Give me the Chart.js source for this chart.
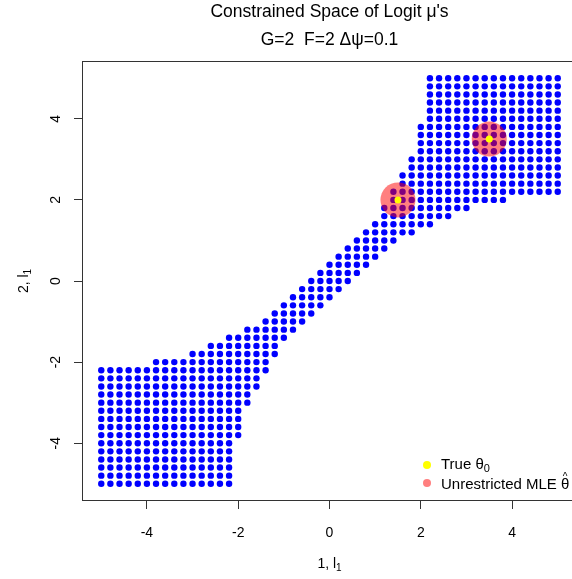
<!DOCTYPE html>
<html>
<head>
<meta charset="utf-8">
<script src="https://cdn.jsdelivr.net/npm/chart.js@4.4.1/dist/chart.umd.min.js"></script>
<style>
  html, body { margin: 0; padding: 0; background: #fff; overflow: hidden; }
  #wrap { position: absolute; left: 0; top: 0; width: 580px; height: 579px; }
</style>
</head>
<body>
<div id="wrap"><canvas id="chart" width="580" height="579"></canvas></div>
<script>
// lattice columns (l1 of group 1) and the y range kept in each column
const gridX = [-5, -4.8, -4.6, -4.4, -4.2, -4, -3.8, -3.6, -3.4, -3.2, -3, -2.8, -2.6, -2.4, -2.2, -2, -1.8, -1.6, -1.4, -1.2, -1,
    -0.8, -0.6, -0.4, -0.2, 0, 0.2, 0.4, 0.6, 0.8, 1, 1.2, 1.4, 1.6, 1.8, 2, 2.2, 2.4, 2.6, 2.8, 3, 3.2, 3.4, 3.6, 3.8, 4,
    4.2, 4.4, 4.6, 4.8, 5];
const colYMin = [-5, -5, -5, -5, -5, -5, -5, -5, -5, -5, -5, -5, -5, -5, -5, -3.8, -3, -2.6, -2.2, -1.8, -1.4,
    -1.2, -1, -0.8, -0.6, -0.4, -0.2, 0, 0.2, 0.4, 0.6, 0.8, 1, 1.2, 1.2, 1.4, 1.4, 1.6, 1.6, 1.8, 1.8, 2, 2, 2, 2, 2.2,
    2.2, 2.2, 2.2, 2.2, 2.2];
const colYMax = [-2.2, -2.2, -2.2, -2.2, -2.2, -2.2, -2, -2, -2, -2, -1.8, -1.8, -1.6, -1.6, -1.4, -1.4, -1.2, -1.2, -1, -0.8, -0.6,
    -0.4, -0.2, 0, 0.2, 0.4, 0.6, 0.8, 1, 1.2, 1.4, 1.8, 2.2, 2.6, 3, 3.8, 5, 5, 5, 5, 5, 5, 5, 5, 5, 5,
    5, 5, 5, 5, 5];
const gridStep = 0.2;

const truePoints = [{ x: 1.5, y: 2 }, { x: 3.5, y: 3.5 }];
const mlePoints = [{ x: 1.5, y: 2 }, { x: 3.5, y: 3.5 }];

const xTicks = [-4, -2, 0, 2, 4];
const yTicks = [-4, -2, 0, 2, 4];
const axisMin = -5.4;
const axisMax = 5.4;

const FONT = "'Liberation Sans', Arial, sans-serif";

// expand each column's range into lattice points
const spacePoints = [];
gridX.forEach((x, i) => {
    const n = Math.round((colYMax[i] - colYMin[i]) / gridStep);
    for (let j = 0; j <= n; j++) {
        spacePoints.push({ x: x, y: +(colYMin[i] + j * gridStep).toFixed(1) });
    }
});

// draw text made of pieces (for subscripts / hats)
function drawParts(ctx, parts, x, y, align) {
    let total = 0;
    parts.forEach(p => {
        ctx.font = p.size + 'px ' + FONT;
        p.w = ctx.measureText(p.t).width;
        total += p.w;
    });
    let cx = align === 'center' ? x - total / 2 : x;
    ctx.textAlign = 'left';
    ctx.textBaseline = 'alphabetic';
    parts.forEach(p => {
        ctx.font = p.size + 'px ' + FONT;
        ctx.fillText(p.t, cx, y + (p.dy || 0));
        if (p.hat) {
            ctx.font = '10px ' + FONT;
            ctx.textAlign = 'center';
            ctx.fillText('^', cx + p.w / 2, y - 9);
            ctx.textAlign = 'left';
        }
        cx += p.w;
    });
}

const decor = {
    id: 'decor',
    afterDraw(chart) {
        const ctx = chart.ctx;
        const ca = chart.chartArea;
        const xs = chart.scales.x;
        const ys = chart.scales.y;
        ctx.save();

        // plot box
        ctx.strokeStyle = '#333';
        ctx.lineWidth = 1;
        ctx.strokeRect(ca.left - 0.5, ca.top - 0.5, ca.right - ca.left + 1, ca.bottom - ca.top + 1);

        ctx.fillStyle = '#000';
        const midX = (ca.left + ca.right) / 2;

        // titles
        drawParts(ctx, [{ t: "Constrained Space of Logit \u03BC's", size: 17.5 }], midX, 16.5, 'center');
        drawParts(ctx, [{ t: 'G=2  F=2 \u0394\u03C8=0.1', size: 17.5 }], midX, 45, 'center');

        // tick labels
        xTicks.forEach(v => {
            drawParts(ctx, [{ t: String(v), size: 14 }], xs.getPixelForValue(v), 536.5, 'center');
        });
        yTicks.forEach(v => {
            ctx.save();
            ctx.translate(60, ys.getPixelForValue(v));
            ctx.rotate(-Math.PI / 2);
            drawParts(ctx, [{ t: String(v), size: 14 }], 0, 0, 'center');
            ctx.restore();
        });

        // axis titles
        drawParts(ctx, [{ t: '1, l', size: 14 }, { t: '1', size: 10, dy: 3 }], midX, 568, 'center');
        ctx.save();
        ctx.translate(28, (ca.top + ca.bottom) / 2);
        ctx.rotate(-Math.PI / 2);
        drawParts(ctx, [{ t: '2, l', size: 14 }, { t: '1', size: 10, dy: 3 }], 0, 0, 'center');
        ctx.restore();

        // legend
        ctx.fillStyle = '#FFFF00';
        ctx.beginPath(); ctx.arc(427, 465, 4, 0, Math.PI * 2); ctx.fill();
        ctx.fillStyle = 'rgba(255,0,0,0.5)';
        ctx.beginPath(); ctx.arc(427, 483, 4, 0, Math.PI * 2); ctx.fill();
        ctx.fillStyle = '#000';
        drawParts(ctx, [{ t: 'True \u03B8', size: 15 }, { t: '0', size: 11, dy: 3 }], 441, 468.5, 'left');
        drawParts(ctx, [{ t: 'Unrestricted MLE ', size: 15 }, { t: '\u03B8', size: 15, hat: true }], 441, 489, 'left');

        ctx.restore();
    }
};

const axisOpts = {
    type: 'linear',
    min: axisMin,
    max: axisMax,
    grid: { display: true, drawOnChartArea: false, drawTicks: true, tickLength: 9, color: '#333', lineWidth: 1 },
    border: { display: false },
    ticks: { display: false }
};

new Chart(document.getElementById('chart'), {
    type: 'scatter',
    data: {
        datasets: [
            { label: 'True theta0', data: truePoints, backgroundColor: '#FFFF00', borderWidth: 0, pointRadius: 3.5, order: 0 },
            { label: 'Unrestricted MLE', data: mlePoints, backgroundColor: 'rgba(255,0,0,0.5)', borderWidth: 0, pointRadius: 17.5, order: 1 },
            { label: 'Constrained space', data: spacePoints, backgroundColor: '#0000FF', borderWidth: 0, pointRadius: 3.2, order: 2 }
        ]
    },
    options: {
        responsive: false,
        animation: false,
        devicePixelRatio: 1,
        layout: { autoPadding: false, padding: { top: 62, right: 4, left: 0, bottom: 0 } },
        plugins: {
            legend: { display: false },
            title: { display: false },
            tooltip: { enabled: false }
        },
        scales: {
            x: Object.assign({}, axisOpts, {
                afterBuildTicks: s => { s.ticks = xTicks.map(v => ({ value: v })); },
                afterFit: s => { s.height = 79; }
            }),
            y: Object.assign({}, axisOpts, {
                afterBuildTicks: s => { s.ticks = yTicks.map(v => ({ value: v })); },
                afterFit: s => { s.width = 83; }
            })
        }
    },
    plugins: [decor]
});
</script>
</body>
</html>
